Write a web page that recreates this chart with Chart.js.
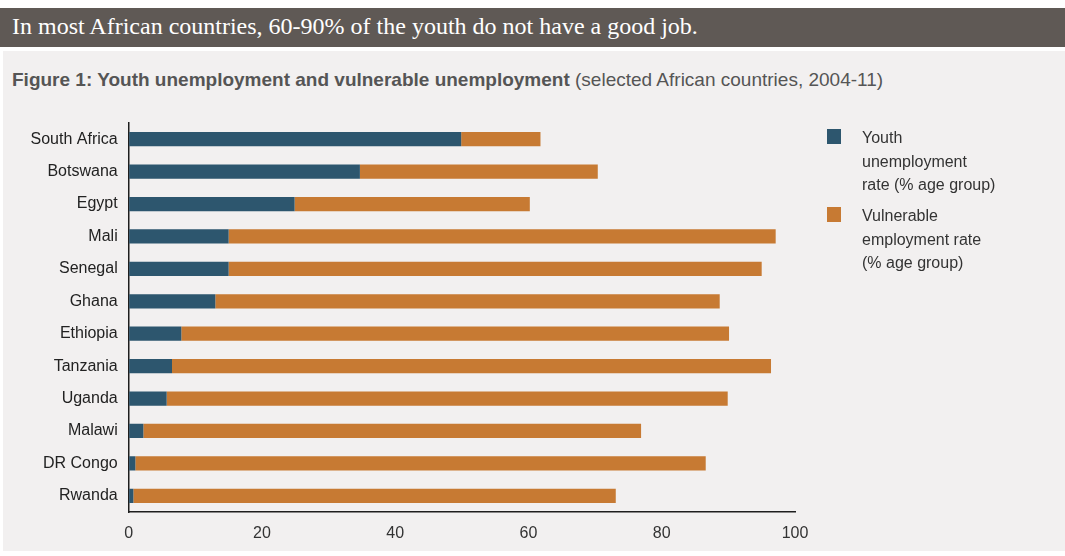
<!DOCTYPE html>
<html>
<head>
<meta charset="utf-8">
<script src="https://cdn.jsdelivr.net/npm/chart.js@4.4.0/dist/chart.umd.min.js"></script>
<style>
  html, body { margin: 0; padding: 0; background: #fff; }
  #page { position: relative; width: 1065px; height: 556px; overflow: hidden; background: #fff; }
  #band { position: absolute; left: 0; top: 8px; width: 1065px; height: 39px; background: #5f5955; }
  #band span { position: absolute; left: 12px; top: 6px; line-height: 24px; color: #fff; font-family: "Liberation Serif", "DejaVu Serif", serif; font-size: 24px; white-space: nowrap; }
  #panel { position: absolute; left: 3px; top: 51px; width: 1062px; height: 500px; background: #f2f0f0; }
  #subtitle { position: absolute; left: 12px; top: 70px; line-height: 20px; color: #555; font-family: "Liberation Sans", sans-serif; font-size: 19px; white-space: nowrap; }
  #subtitle b { font-weight: bold; }
  canvas { position: absolute; left: 0; top: 0; }
  .leg { position: absolute; left: 827px; font-family: "Liberation Sans", sans-serif; font-size: 16px; color: #333; line-height: 23.5px; }
  .leg i { position: absolute; left: 0; top: 3px; width: 14px; height: 15px; }
  .leg span { position: absolute; left: 35px; top: 0; white-space: nowrap; }
</style>
</head>
<body>
<div id="page">
  <div id="band"><span>In most African countries, 60-90% of the youth do not have a good job.</span></div>
  <div id="panel"></div>
  <div id="subtitle"><b>Figure 1: Youth unemployment and vulnerable unemployment</b> (selected African countries, 2004-11)</div>
  <canvas id="chart" width="1065" height="556"></canvas>
  <div class="leg" style="top:126px"><i style="background:#2d566e"></i><span>Youth<br>unemployment<br>rate (% age group)</span></div>
  <div class="leg" style="top:204px"><i style="background:#c77a33"></i><span>Vulnerable<br>employment rate<br>(% age group)</span></div>
</div>
<script>
// Data
const countries = ['South Africa', 'Botswana', 'Egypt', 'Mali', 'Senegal', 'Ghana',
    'Ethiopia', 'Tanzania', 'Uganda', 'Malawi', 'DR Congo', 'Rwanda'];
const youthUnemployment = [49.9, 34.7, 24.9, 15.0, 15.0, 13.0, 7.9, 6.5, 5.7, 2.2, 1.0, 0.7];
const vulnerableEmployment = [11.9, 35.7, 35.3, 82.1, 80.0, 75.7, 82.2, 89.9, 84.2, 74.7, 85.6, 72.4];
const xTicks = [0, 20, 40, 60, 80, 100];

const labelFont = '"Liberation Sans", sans-serif';

const ctx = document.getElementById('chart').getContext('2d');
new Chart(ctx, {
    type: 'bar',
    data: {
        labels: countries,
        datasets: [{
            label: 'Youth unemployment rate (% age group)',
            data: youthUnemployment,
            backgroundColor: '#2d566e',
            borderWidth: 0
        }, {
            label: 'Vulnerable employment rate (% age group)',
            data: vulnerableEmployment,
            backgroundColor: '#c77a33',
            borderWidth: 0
        }]
    },
    options: {
        indexAxis: 'y',
        responsive: false,
        animation: false,
        layout: {
            padding: { top: 123, right: 270, bottom: 0, left: 0 }
        },
        datasets: {
            bar: {
                categoryPercentage: 1,
                barPercentage: 0.44
            }
        },
        plugins: {
            legend: { display: false },
            tooltip: { enabled: false }
        },
        scales: {
            x: {
                stacked: true,
                min: 0,
                max: 100,
                afterBuildTicks: (scale) => {
                    scale.ticks = xTicks.map(v => ({ value: v }));
                },
                afterFit: (scale) => { scale.height = 44; },
                grid: { drawOnChartArea: false, drawTicks: false },
                border: { display: true, color: '#1e1e1e', width: 1.5 },
                ticks: {
                    padding: 12,
                    color: '#333',
                    font: { family: labelFont, size: 16 }
                }
            },
            y: {
                stacked: true,
                afterFit: (scale) => { scale.width = 128.7; },
                grid: { drawOnChartArea: false, drawTicks: false },
                border: { display: true, color: '#1e1e1e', width: 1.5 },
                ticks: {
                    padding: 11,
                    color: '#222',
                    font: { family: labelFont, size: 16 }
                }
            }
        }
    }
});
</script>
</body>
</html>
